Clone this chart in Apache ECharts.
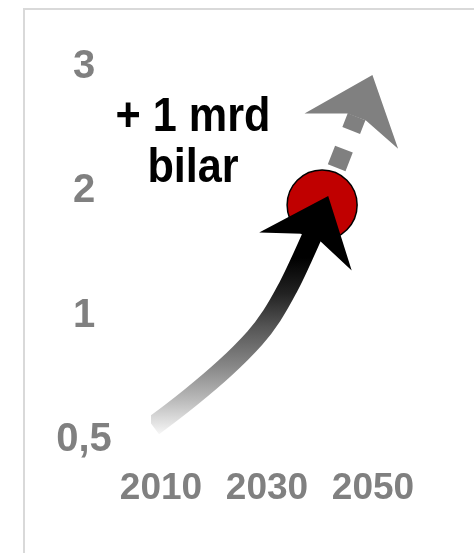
<!DOCTYPE html>
<html>
<head>
<meta charset="utf-8">
<script src="https://cdn.jsdelivr.net/npm/echarts@6/dist/echarts.min.js"></script>
<style>
  html, body { margin: 0; padding: 0; background: #fff; }
  #chart { width: 474px; height: 553px; }
</style>
</head>
<body>
<div id="chart"></div>
<script>
// axis ticks
const xTicks = [2010, 2030, 2050]
const yTickLabels = ['0,5', '1', '2', '3']

// trend so far (index units on y: 0 = 0,5 ... 3 = 3)
const trendYears = [2008.5, 2015.5, 2022.1, 2027.7, 2030.9, 2034.0, 2036.6, 2038.5]
const trendLevel = [0.11, 0.34, 0.58, 0.82, 1.0, 1.23, 1.46, 1.64]

// forecast (dashed) and today's point
const forecastYears = [2040.4, 2046.9]
const forecastLevel = [1.89, 2.6]
const nowPoint = [2040.4, 1.89]

// arrow heads
const headNow = [2039.4, 1.74]
const headForecast = [2047.9, 2.71]

const FONT = "'Liberation Sans', Arial, sans-serif"
const GREY = '#808080'
const arrowPath = 'path://M50,0 L100,60 L60,45 L40,45 L0,60 Z'

const zip = (a, b) => a.map((v, i) => [v, b[i]])

const chart = echarts.init(document.getElementById('chart'))
chart.setOption({
  animation: false,
  grid: { left: 161, right: 101, top: 67, bottom: 113, containLabel: false, outerBoundsMode: 'none' },
  xAxis: {
    type: 'value', min: xTicks[0], max: xTicks[xTicks.length - 1], interval: 20,
    axisLine: { show: false }, axisTick: { show: false }, splitLine: { show: false },
    axisLabel: {
      color: GREY, fontSize: 37, fontWeight: 'bold', fontFamily: FONT, margin: 30,
      showMinLabel: true, showMaxLabel: true,
      formatter: v => String(v),
    },
  },
  yAxis: {
    type: 'value', min: 0, max: 3, interval: 1,
    axisLine: { show: false }, axisTick: { show: false }, splitLine: { show: false },
    axisLabel: {
      color: GREY, fontSize: 40, fontWeight: 'bold', fontFamily: FONT, margin: 77, align: 'center',
      formatter: v => yTickLabels[v] || '',
    },
  },
  graphic: [
    { type: 'rect', silent: true, z: -10, shape: { x: 24, y: 9, width: 600, height: 700 }, style: { fill: 'none', stroke: '#d9d9d9', lineWidth: 2 } },
    {
      type: 'text', x: 193, y: 92, scaleX: 0.9, silent: true,
      style: { text: '+ 1 mrd\nbilar', fill: '#000', fontSize: 48, fontWeight: 'bold', fontFamily: FONT, align: 'center', verticalAlign: 'top', lineHeight: 51 },
    },
  ],
  series: [
    {
      type: 'line', data: zip(forecastYears, forecastLevel), symbol: 'none', clip: false, silent: true, z: 1,
      lineStyle: { color: GREY, width: 19, type: [20, 20], dashOffset: 0, cap: 'butt', opacity: 1 },
    },
    {
      type: 'scatter', data: [nowPoint], symbolSize: 70, clip: false, silent: true, z: 2,
      itemStyle: { color: '#c00000', borderColor: '#000', borderWidth: 1.5, opacity: 1 },
    },
    {
      type: 'line', data: zip(trendYears, trendLevel), smooth: 0.4, symbol: 'none', clip: false, silent: true, z: 3,
      lineStyle: {
        width: 20, cap: 'butt', opacity: 1,
        color: new echarts.graphic.LinearGradient(0, 1, 0, 0, [
          { offset: 0, color: '#fafafa' },
          { offset: 0.17, color: '#bbbbbb' },
          { offset: 0.33, color: '#888888' },
          { offset: 0.52, color: '#555555' },
          { offset: 0.68, color: '#222222' },
          { offset: 0.85, color: '#000000' },
          { offset: 1, color: '#000000' },
        ]),
      },
    },
    {
      type: 'scatter', symbol: arrowPath, symbolSize: [100, 60], clip: false, silent: true, z: 4,
      itemStyle: { opacity: 1 },
      data: [
        { value: headNow, symbolRotate: -22.3, itemStyle: { color: '#000', opacity: 1 } },
        { value: headForecast, symbolRotate: -20.6, itemStyle: { color: GREY, opacity: 1 } },
      ],
    },
  ],
})
</script>
</body>
</html>
